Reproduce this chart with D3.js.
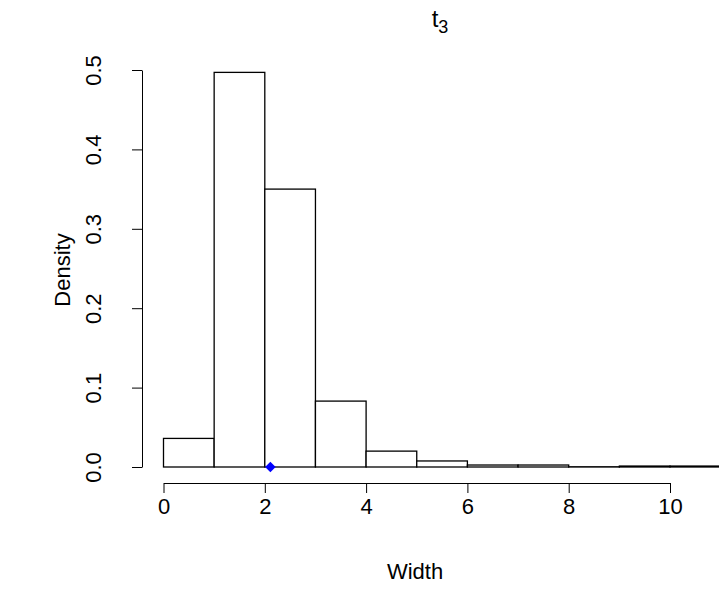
<!DOCTYPE html>
<html>
<head>
<meta charset="utf-8">
<script src="https://cdn.jsdelivr.net/npm/d3@7"></script>
<style>
  body { margin: 0; background: #fff; }
  svg { display: block; font-family: "Liberation Sans", Arial, sans-serif; }
  .axis path, .axis line { stroke: #000; stroke-width: 1; }
  .axis text { font-size: 22px; fill: #000; font-family: "Liberation Sans", Arial, sans-serif; }
</style>
</head>
<body>
<svg width="719" height="611"></svg>
<script>
// histogram bins (left edges) and densities
var bin_starts = [0, 1, 2, 3, 4, 5, 6, 7, 8, 9, 10]
var bin_width = 1
var densities = [0.036, 0.497, 0.350, 0.083, 0.020, 0.0076, 0.0025, 0.0025, 0.0003, 0.0012, 0.0012]
var x_ticks = [0, 2, 4, 6, 8, 10]
var y_ticks = [0, 0.1, 0.2, 0.3, 0.4, 0.5]
var marker_x = [2.11]

var svg = d3.select('svg')

var x = d3.scaleLinear().domain([0, 10]).range([163.5, 670])
var y = d3.scaleLinear().domain([0, 0.5]).range([467, 70])

var bins = bin_starts.map((s, i) => ({ x0: s, x1: s + bin_width, d: densities[i] }))

svg.selectAll('.bar')
  .data(bins)
  .enter()
    .append('rect')
    .attr('class', 'bar')
    .attr('x', (b) => x(b.x0))
    .attr('y', (b) => y(b.d))
    .attr('width', (b) => x(b.x1) - x(b.x0))
    .attr('height', (b) => y(0) - y(b.d))
    .attr('fill', 'white')
    .attr('stroke', 'black')
    .attr('stroke-width', 1.3)

svg.selectAll('.marker')
  .data(marker_x)
  .enter()
    .append('path')
    .attr('class', 'marker')
    .attr('d', d3.symbol().type(d3.symbolDiamond2).size(70))
    .attr('transform', (d) => 'translate(' + x(d) + ',' + y(0) + ')')
    .attr('fill', 'blue')

// R style axes, detached from the bars
svg.append('g')
  .attr('class', 'axis')
  .attr('transform', 'translate(0,483)')
  .call(d3.axisBottom(x).tickValues(x_ticks).tickSize(10).tickSizeOuter(0).tickPadding(5)
    .tickFormat(d3.format('d')))

var y_axis = svg.append('g')
  .attr('class', 'axis')
  .attr('transform', 'translate(142,0)')
  .call(d3.axisLeft(y).tickValues(y_ticks).tickSize(10).tickSizeOuter(0)
    .tickFormat(d3.format('.1f')))

// rotated tick labels, as R does with las = 0
y_axis.selectAll('.tick text')
  .attr('transform', 'rotate(-90)')
  .attr('x', 0)
  .attr('y', -49)
  .attr('dy', '0.35em')
  .attr('text-anchor', 'middle')

svg.append('text')
  .attr('x', 415)
  .attr('y', 579)
  .attr('text-anchor', 'middle')
  .attr('font-size', 22)
  .text('Width')

svg.append('text')
  .attr('transform', 'translate(70,270) rotate(-90)')
  .attr('text-anchor', 'middle')
  .attr('font-size', 22)
  .text('Density')

var title = svg.append('text')
  .attr('x', 440)
  .attr('y', 27)
  .attr('text-anchor', 'middle')
  .attr('font-size', 24)
title.append('tspan').text('t')
title.append('tspan').attr('dy', 6).attr('font-size', 18).text('3')
</script>
</body>
</html>
